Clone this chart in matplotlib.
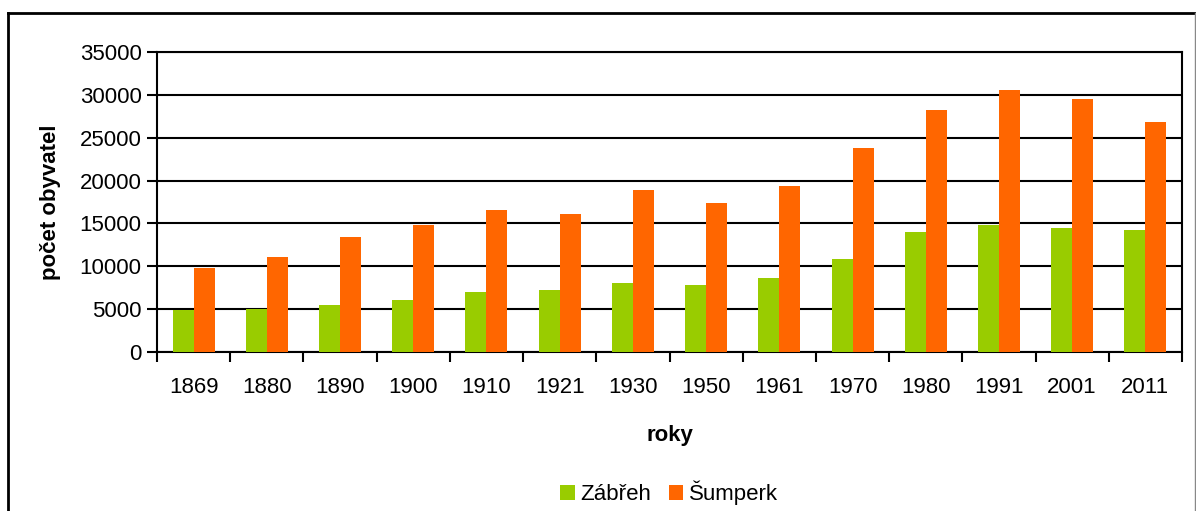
import matplotlib.pyplot as plt
import numpy as np
from matplotlib.lines import Line2D

plt.rcParams['font.family'] = ['Liberation Sans', 'DejaVu Sans']

roky = ['1869', '1880', '1890', '1900', '1910', '1921', '1930',
        '1950', '1961', '1970', '1980', '1991', '2001', '2011']
zabreh = [4870, 4990, 5460, 6040, 6980, 7210, 8030,
          7790, 8610, 10830, 13990, 14810, 14460, 14220]
sumperk = [9780, 11070, 13410, 14810, 16560, 16100, 18900,
           17380, 19370, 23810, 28250, 30590, 29540, 26850]

W, H = 1196, 511
fig = plt.figure(figsize=(W / 100, H / 100), dpi=100)
ax = fig.add_axes([157 / W, 1 - 352 / H, (1182 - 157) / W, 300 / H])

x = np.arange(len(roky))
bw = 0.287
ax.bar(x - bw / 2, zabreh, bw, color='#99CC00', label='Zábřeh', zorder=3)
ax.bar(x + bw / 2, sumperk, bw, color='#FF6600', label='Šumperk', zorder=3)

ax.set_xlim(-0.5, len(roky) - 0.5)
ax.set_ylim(0, 35000)
ax.set_yticks(range(0, 35001, 5000))
ax.set_xticks(x)
ax.set_xticklabels(roky)
ax.set_xticks(np.arange(-0.5, len(roky), 1), minor=True)
ax.tick_params(axis='x', which='major', length=0, pad=18, labelsize=16)
ax.tick_params(axis='x', which='minor', length=7, width=1.5, direction='out')
ax.tick_params(axis='y', length=7, width=1.5, direction='out', labelsize=16, pad=4)
ax.yaxis.grid(True, color='black', linewidth=1.5, zorder=0)
for s in ax.spines.values():
    s.set_linewidth(1.5)
    s.set_color('black')

ax.set_xlabel('roky', fontsize=16, fontweight='bold')
ax.set_ylabel('počet obyvatel', fontsize=16, fontweight='bold')
ax.xaxis.set_label_coords(0.5, -0.242)
ax.yaxis.set_label_coords(-0.094, 0.5)

fig.legend(loc='center', bbox_to_anchor=(669 / W, 1 - 493 / H), ncol=2,
           frameon=False, fontsize=16, handlelength=0.65, handleheight=0.65,
           handletextpad=0.25, columnspacing=0.8)

# outer chart border
fig.add_artist(Line2D([8 / W, 8 / W], [0, 1 - 13 / H], transform=fig.transFigure,
                      color='black', linewidth=2))
fig.add_artist(Line2D([8 / W, 1195 / W], [1 - 13 / H, 1 - 13 / H],
                      transform=fig.transFigure, color='black', linewidth=2))
fig.add_artist(Line2D([1194.5 / W, 1194.5 / W], [0, 1 - 13 / H],
                      transform=fig.transFigure, color='#888888', linewidth=1))

fig.savefig('out.png', dpi=100)
